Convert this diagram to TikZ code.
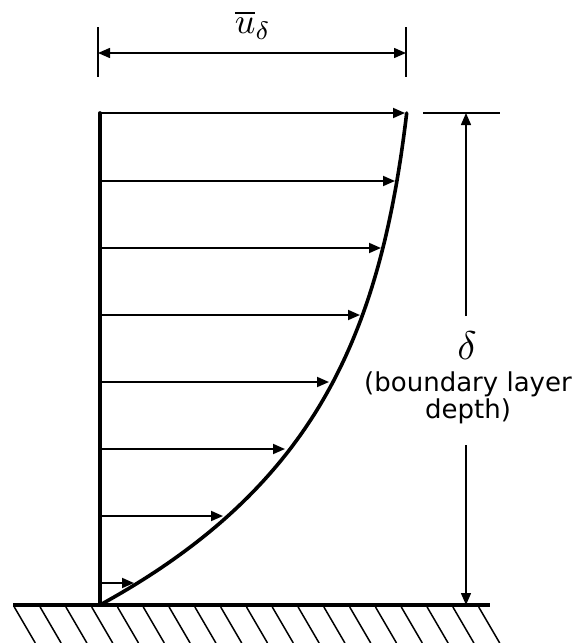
\documentclass[tikz,border=0pt]{standalone}
\usepackage{fontspec}
\newfontfamily\labelfont{DejaVu Sans}
\usetikzlibrary{arrows.meta}
\tikzset{
  thickline/.style={line width=3.6pt, line cap=round, line join=round},
  vecarrow/.style={line width=1.8pt, -{Triangle[length=12pt,width=10pt]}},
  dimline/.style={line width=1.5pt},
  dimarrow/.style={line width=1.5pt, -{Triangle[length=12pt,width=10pt]}},
  hatch/.style={line width=1.5pt},
  labeltext/.style={inner sep=0pt, anchor=base, font=\labelfont\fontsize{26}{28}\selectfont},
}
\begin{document}
\begin{tikzpicture}[x=1pt,y=-1pt]
\useasboundingbox (0,0) rectangle (576,643);
% ground and hatching
\coordinate (gl) at (13,605);
\coordinate (gr) at (490,605);
\foreach \k in {0,...,18} {
  \draw[hatch] ({14.3+25.8*\k},607) -- ({35.3+25.8*\k},643);
}
\draw[line width=3.6pt] (gl) -- (gr);
% wall
\coordinate (wt) at (100,113);
\coordinate (wb) at (100,605);
\draw[thickline] (wt) -- (wb);
% velocity profile curve
\draw[thickline] plot[domain=0:492, samples=120, variable=\h] ({100+328*(1-exp(-\h/180))}, {605-\h});
% velocity arrows
\foreach \y/\x in {113/405, 181/395, 248/381, 315/360, 382/329, 449/285, 516/223, 583/134} {
  \coordinate (s\y) at (100,\y);
  \coordinate (e\y) at (\x,\y);
  \draw[vecarrow] (s\y) -- (e\y);
}
% top dimension
\coordinate (tl1) at (98,27); \coordinate (tl2) at (98,77);
\coordinate (tr1) at (406,27); \coordinate (tr2) at (406,77);
\draw[dimline] (tl1) -- (tl2);
\draw[dimline] (tr1) -- (tr2);
\coordinate (tm) at (252,53);
\coordinate (ta) at (98,53); \coordinate (tb) at (406,53);
\draw[dimarrow] (tm) -- (ta);
\draw[dimarrow] (tm) -- (tb);
\node[inner sep=0pt] (ulabel) at (253,25) {\scalebox{3.6}{$\overline{u}_{\delta}$}};
% right dimension
\coordinate (rt1) at (423,113); \coordinate (rt2) at (500,113);
\draw[dimline] (rt1) -- (rt2);
\coordinate (rtop) at (466,113);
\coordinate (rbot) at (466,605);
\coordinate (rg1) at (466,316);
\coordinate (rg2) at (466,445);
\node[inner sep=0pt] (dlabel) at (467,346) {\scalebox{4}{$\delta$}};
\node[labeltext] (dtext1) at (468,391) {(boundary layer};
\node[labeltext] (dtext2) at (468,418) {depth)};
\draw[dimarrow] (rg1) -- (rtop);
\draw[dimarrow] (rg2) -- (rbot);
\end{tikzpicture}
\end{document}
